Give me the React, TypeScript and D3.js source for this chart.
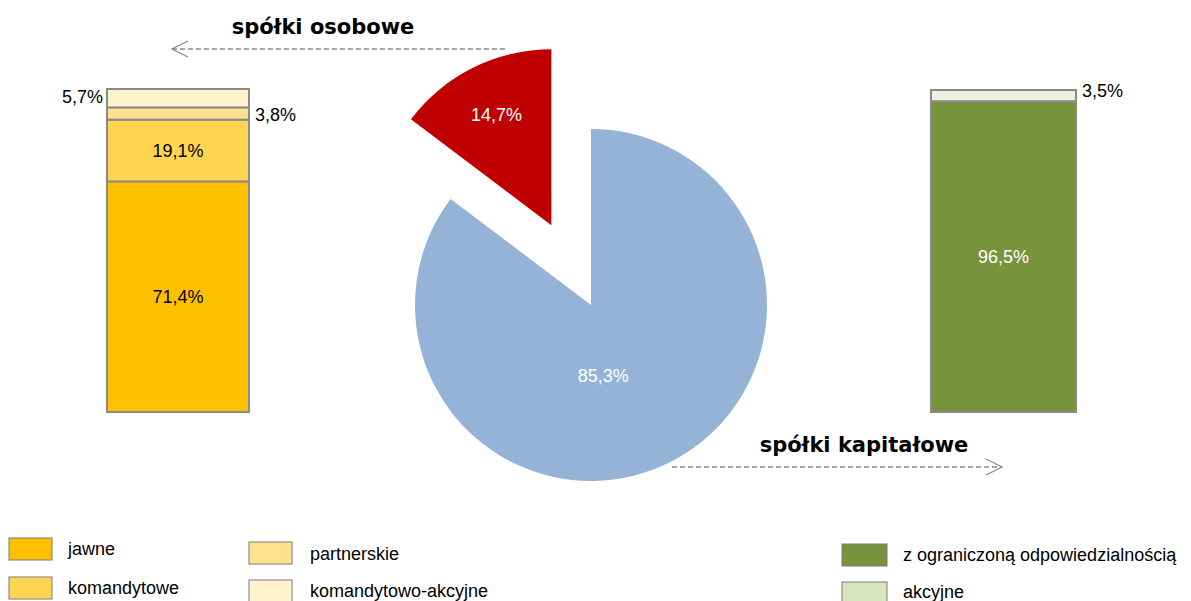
import React from "react";
import * as d3 from "d3";

// pie: spółki osobowe vs kapitałowe
const pieLabels = ["spółki kapitałowe", "spółki osobowe"];
const pieValues = [85.3, 14.7];
const pieColors = ["#95B3D7", "#C00000"];

// left bar: spółki osobowe (bottom to top)
const osoboweCats = ["jawne", "komandytowe", "partnerskie", "komandytowo-akcyjne"];
const osoboweValues = [71.4, 19.1, 3.8, 5.7];
const osoboweColors = ["#FFC000", "#FFD54F", "#FFE08F", "#FFF2CC"];

// right bar: spółki kapitałowe (bottom to top)
const kapitaloweCats = ["z ograniczoną odpowiedzialnością", "akcyjne"];
const kapitaloweValues = [96.5, 3.5];
const kapitaloweColors = ["#77933C", "#EBF1DE"];
const kapitaloweLegendColors = ["#77933C", "#D7E4BD"];

const fmt = (v: number) => v.toFixed(1).replace(".", ",") + "%";
const NUM_FONT = "Liberation Sans, Arial, sans-serif";
const TITLE_FONT = "DejaVu Sans, Verdana, sans-serif";
const FS = 18;

function stack(values: number[]) {
  let acc = 0;
  return values.map((v) => {
    const s = { y0: acc, y1: acc + v, v };
    acc += v;
    return s;
  });
}

const App = () => {
  const W = 1191;
  const H = 601;

  // pie
  const cx = 591;
  const cy = 305;
  const r = 176;
  const pie = d3.pie<number>().sort(null).startAngle(0).endAngle(2 * Math.PI);
  const arcs = pie(pieValues);
  const arcGen = d3.arc<d3.PieArcDatum<number>>().innerRadius(0).outerRadius(r);
  const explode = [0, 89];
  const labelR = [0.45, 0.7];
  const labelNudge = [-23, 0];

  // bars
  const y = d3.scaleLinear().domain([0, 100]).range([412, 89]);
  const yR = d3.scaleLinear().domain([0, 100]).range([412, 90]);
  const leftX = 107, leftW = 142;
  const rightX = 931, rightW = 145;
  const osStack = stack(osoboweValues);
  const kapStack = stack(kapitaloweValues);

  const arrow = (x1: number, x2: number, yy: number) => {
    const dir = x2 > x1 ? 1 : -1;
    return (
      <g>
        <line x1={x1} y1={yy} x2={x2} y2={yy} stroke="#8c8c8c" strokeWidth={1.3} strokeDasharray="5,3" />
        <polyline
          points={`${x2 - dir * 16},${yy - 8} ${x2},${yy} ${x2 - dir * 16},${yy + 8}`}
          fill="none"
          stroke="#8c8c8c"
          strokeWidth={1.3}
        />
      </g>
    );
  };

  return (
    <svg width={W} height={H} style={{ position: "absolute", left: 0, top: 0 }}>
      <rect width={W} height={H} fill="#fff" />

      {/* pie */}
      {arcs.map((a, i) => {
        const mid = (a.startAngle + a.endAngle) / 2;
        const dx = Math.sin(mid) * explode[i];
        const dy = -Math.cos(mid) * explode[i];
        const lr = r * labelR[i];
        const lx = Math.sin(mid) * lr + labelNudge[i];
        const ly = -Math.cos(mid) * lr;
        return (
          <g key={i} transform={`translate(${cx + dx},${cy + dy})`}>
            <path d={arcGen(a) || ""} fill={pieColors[i]} />
            <text x={lx} y={ly} dy="0.35em" textAnchor="middle" fill="#fff" fontFamily={NUM_FONT} fontSize={FS}>
              {fmt(pieValues[i])}
            </text>
          </g>
        );
      })}

      {/* left bar */}
      {osStack.map((s, i) => (
        <rect
          key={i}
          x={leftX}
          y={y(s.y1)}
          width={leftW}
          height={y(s.y0) - y(s.y1)}
          fill={osoboweColors[i]}
          stroke="#8a8a8a"
          strokeWidth={2}
        />
      ))}
      {osStack.map((s, i) => {
        const mid = y((s.y0 + s.y1) / 2);
        if (i < 2)
          return (
            <text key={i} x={leftX + leftW / 2} y={mid} dy="0.35em" textAnchor="middle" fontFamily={NUM_FONT} fontSize={FS} fill="#000">
              {fmt(s.v)}
            </text>
          );
        if (i === 2)
          return (
            <text key={i} x={leftX + leftW + 6} y={mid + 1} dy="0.35em" textAnchor="start" fontFamily={NUM_FONT} fontSize={FS} fill="#000">
              {fmt(s.v)}
            </text>
          );
        return (
          <text key={i} x={leftX - 4} y={mid - 2} dy="0.35em" textAnchor="end" fontFamily={NUM_FONT} fontSize={FS} fill="#000">
            {fmt(s.v)}
          </text>
        );
      })}

      {/* right bar */}
      {kapStack.map((s, i) => (
        <rect
          key={i}
          x={rightX}
          y={yR(s.y1)}
          width={rightW}
          height={yR(s.y0) - yR(s.y1)}
          fill={kapitaloweColors[i]}
          stroke="#8a8a8a"
          strokeWidth={2}
        />
      ))}
      {kapStack.map((s, i) =>
        i === 0 ? (
          <text key={i} x={rightX + rightW / 2} y={yR((s.y0 + s.y1) / 2)} dy="0.35em" textAnchor="middle" fontFamily={NUM_FONT} fontSize={FS} fill="#fff">
            {fmt(s.v)}
          </text>
        ) : (
          <text key={i} x={rightX + rightW + 6} y={yR(s.y1) + 1} dy="0.35em" textAnchor="start" fontFamily={NUM_FONT} fontSize={FS} fill="#000">
            {fmt(s.v)}
          </text>
        )
      )}

      {/* titles and arrows */}
      <text x={323} y={34} textAnchor="middle" fontFamily={TITLE_FONT} fontWeight="bold" fontSize={21} fill="#000">
        {pieLabels[1]}
      </text>
      {arrow(505, 172, 49)}
      <text x={864} y={452} textAnchor="middle" fontFamily={TITLE_FONT} fontWeight="bold" fontSize={21} fill="#000">
        {pieLabels[0]}
      </text>
      {arrow(672, 1002, 467)}

      {/* legend */}
      {[
        { x: 9, y: 538, tx: 68, ty: 555, i: 0 },
        { x: 9, y: 577, tx: 68, ty: 594, i: 1 },
        { x: 249, y: 542, tx: 310, ty: 560, i: 2 },
        { x: 249, y: 580, tx: 310, ty: 597, i: 3 },
      ].map((l) => (
        <g key={l.i}>
          <rect x={l.x} y={l.y} width={43} height={22} fill={osoboweColors[l.i]} stroke="#7a7a7a" strokeWidth={1} />
          <text x={l.tx} y={l.ty} fontFamily={NUM_FONT} fontSize={FS} fill="#000">
            {osoboweCats[l.i]}
          </text>
        </g>
      ))}
      {[
        { x: 842, y: 544, tx: 903, ty: 561, i: 0 },
        { x: 842, y: 582, tx: 903, ty: 598, i: 1 },
      ].map((l) => (
        <g key={l.i}>
          <rect x={l.x} y={l.y} width={45} height={22} fill={kapitaloweLegendColors[l.i]} stroke="#7a7a7a" strokeWidth={1} />
          <text x={l.tx} y={l.ty} fontFamily={NUM_FONT} fontSize={FS} fill="#000">
            {kapitaloweCats[l.i]}
          </text>
        </g>
      ))}
    </svg>
  );
};

export default App;
